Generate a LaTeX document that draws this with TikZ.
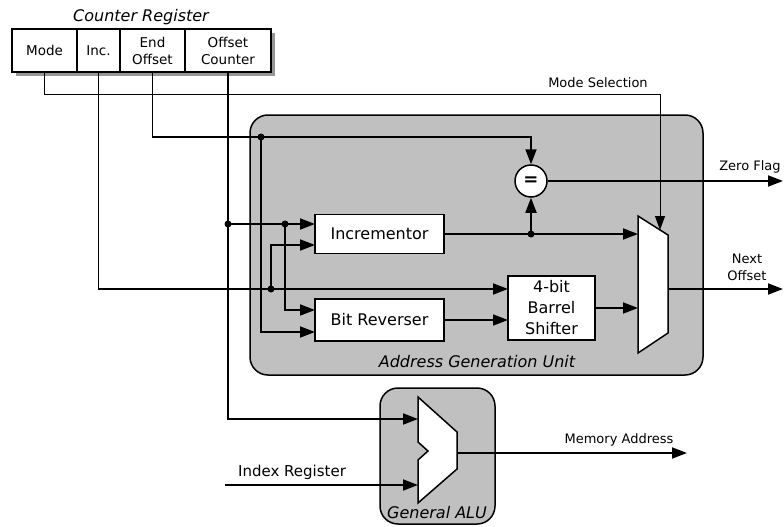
\documentclass[tikz,border=0pt]{standalone}
\usepackage{fontspec}
\setmainfont{DejaVu Sans}
\usetikzlibrary{arrows.meta,positioning,calc}
\definecolor{unitgray}{RGB}{192,192,192}
\definecolor{shadowgray}{RGB}{150,150,150}

\begin{document}
\begin{tikzpicture}[x=1pt,y=-1pt,
   bigfont/.style={font=\fontsize{16}{21}\selectfont},
   smallfont/.style={font=\fontsize{13}{17}\selectfont},
   titlefont/.style={font=\fontsize{16}{20}\selectfont\itshape},
   regcell/.style={draw,fill=white,line width=1.2pt,minimum height=43pt,inner sep=0pt,align=center,
                   font=\fontsize{13.5}{17}\selectfont},
   block/.style={draw,fill=white,line width=1.5pt,inner sep=0pt,align=center,bigfont},
   unit/.style={draw,fill=unitgray,line width=1.5pt,rounded corners=18pt},
   wire/.style={line width=1.8pt},
   arr/.style={wire,-{Triangle[length=15pt,width=11pt]}},
   selwire/.style={line width=0.9pt,-{Triangle[length=14pt,width=10pt]}},
   junction/.style={circle,fill=black,inner sep=0pt,minimum size=7pt}]
   \useasboundingbox (0,0) rectangle (784,527);

   % units
   \draw[unit] (250,115) rectangle (703,375);
   \draw[unit] (380,388) rectangle (495,524);
   \node[titlefont] (agu) at (477,362) {Address Generation Unit};
   \node[titlefont] (galu) at (437,513) {General ALU};

   % counter register
   \fill[shadowgray] (16,33) rectangle (275,76);
   \node[regcell,minimum width=65pt] (mode) at (44.5,50.5) {Mode};
   \node[regcell,minimum width=43pt] (inc)  at (98.5,50.5) {Inc.};
   \node[regcell,minimum width=65pt] (endo) at (152.5,50.5) {End\\Offset};
   \node[regcell,minimum width=86pt] (offc) at (228,50.5) {Offset\\Counter};
   \node[titlefont] (creg) at (141,17) {Counter Register};

   % blocks
   \node[block,minimum width=129pt,minimum height=39pt] (incr) at (379.5,234) {Incrementor};
   \node[block,minimum width=129pt,minimum height=42pt] (rev)  at (379.5,320) {Bit Reverser};
   \node[block,minimum width=87pt,minimum height=64pt]  (bar)  at (551.5,308) {4-bit\\Barrel\\Shifter};
   \node[draw,fill=white,circle,line width=1.5pt,minimum size=32pt,inner sep=0pt,
         font=\fontsize{18}{18}\selectfont\bfseries] (eq) at (531,181) {=};
   \draw[line width=1.5pt,fill=white] (638,216) -- (668,235) -- (668,333) -- (638,353) -- cycle;
   \draw[line width=1.5pt,fill=white] (418,397) -- (457,432) -- (457,469) -- (418,503)
        -- (418,460) -- (428,451) -- (418,442) -- cycle;

   % ports and junctions
   \coordinate (inc1) at (315,224);
   \coordinate (inc2) at (315,245);
   \coordinate (br1)  at (315,310);
   \coordinate (br2)  at (315,332);
   \coordinate (bs1)  at (508,289);
   \coordinate (bs2)  at (508,320);
   \coordinate (mi1)  at (638,234);
   \coordinate (mi2)  at (638,308);
   \coordinate (mo)   at (668,289);
   \coordinate (mtop) at (660,94);
   \coordinate (msel) at (660,230);
   \coordinate (alu1) at (418,419);
   \coordinate (alu2) at (418,485);
   \coordinate (aluo) at (457,453);
   \coordinate (idx)  at (225,485);
   \coordinate (zf)   at (783,181);
   \coordinate (nxt)  at (783,289);
   \coordinate (mem)  at (687,453);
   \coordinate (j1) at (261,137);
   \coordinate (j2) at (228,224);
   \coordinate (j3) at (285,224);
   \coordinate (j4) at (271,289);
   \coordinate (j5) at (531,234);

   % wires
   \draw[selwire] (mode.south) |- (mtop) -- (msel);
   \draw[arr] (endo.south) |- (j1) -| (eq.north);
   \draw[arr] (j1) |- (br2);
   \draw[arr] (offc.south) |- (alu1);
   \draw[arr] (j2) -- (inc1);
   \draw[arr] (j3) |- (br1);
   \draw[arr] (inc.south) |- (bs1);
   \draw[arr] (j4) |- (inc2);
   \draw[arr] (incr.east) -- (mi1);
   \draw[arr] (j5) -- (eq.south);
   \draw[arr] (eq.east) -- (zf);
   \draw[arr] (rev.east) -- (bs2);
   \draw[arr] (bar.east |- mi2) -- (mi2);
   \draw[arr] (mo) -- (nxt);
   \draw[arr] (idx) -- (alu2);
   \draw[arr] (aluo) -- (mem);
   \foreach \j in {j1,j2,j3,j4,j5} \node[junction] at (\j) {};

   % labels
   \node[smallfont] (msl) at (598,83) {Mode Selection};
   \node[smallfont] (zfl) at (750,167) {Zero Flag};
   \node[smallfont,align=center] (nol) at (747,267) {Next\\Offset};
   \node[smallfont] (mal) at (619,440) {Memory Address};
   \node[font=\fontsize{15}{18}\selectfont] (irl) at (292,472) {Index Register};
\end{tikzpicture}
\end{document}
